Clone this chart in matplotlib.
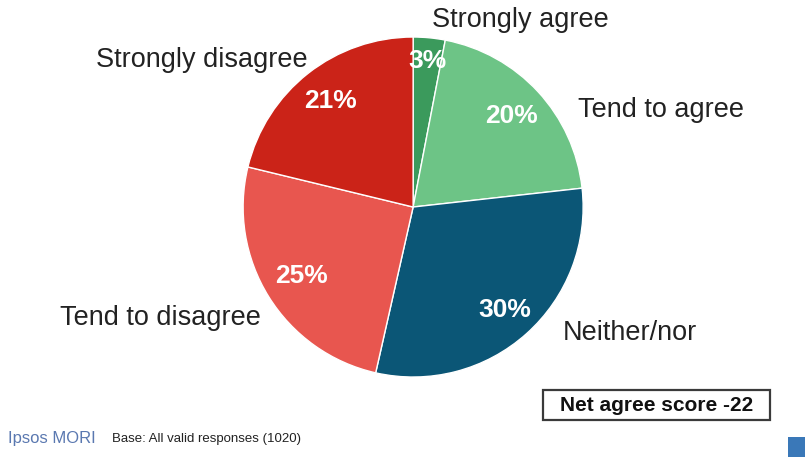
import matplotlib
matplotlib.use("Agg")
import matplotlib.pyplot as plt
import numpy as np
from matplotlib.patches import Rectangle

categories = ["Strongly agree", "Tend to agree", "Neither/nor", "Tend to disagree", "Strongly disagree"]
values = [3, 20, 30, 25, 21]
pct_labels = ["3%", "20%", "30%", "25%", "21%"]
colors = ["#3b9a5c", "#6dc486", "#0b5676", "#e8564f", "#cb2318"]

plt.rcParams['font.family'] = ['Liberation Sans', 'DejaVu Sans']

fig = plt.figure(figsize=(8.05, 4.57), dpi=100)
ax = fig.add_axes([0.302, 0.175, 0.4224, 0.744])
wedges, _ = ax.pie(values, colors=colors, startangle=90, counterclock=False,
                   radius=1.0, wedgeprops=dict(edgecolor="white", linewidth=1.0))
ax.set_xlim(-1, 1)
ax.set_ylim(-1, 1)
ax.set_aspect("equal")
ax.axis("off")

dists = [0.86, 0.79, 0.81, 0.77, 0.79]
for w, lab, d in zip(wedges, pct_labels, dists):
    ang = np.deg2rad((w.theta1 + w.theta2) / 2)
    ax.text(d * np.cos(ang), d * np.sin(ang), lab, color="white", fontsize=19,
            fontweight="bold", ha="center", va="center")

label_pos = [(0.647, 0.956), (0.821, 0.759), (0.783, 0.271), (0.199, 0.304), (0.251, 0.869)]
for cat, (x, y) in zip(categories, label_pos):
    fig.text(x, y, cat, fontsize=19.5, color="#222222", ha="center", va="center")

# Net agree box
fig.patches.append(Rectangle((543 / 805, 1 - 420 / 457), 227 / 805, 30 / 457,
                             transform=fig.transFigure, facecolor="white",
                             edgecolor="#3a3a3a", linewidth=1.6))
fig.text(656.5 / 805, 1 - 405.5 / 457, "Net agree score -22", fontsize=15, fontweight="bold",
         ha="center", va="center", color="#111111")

fig.text(0.010, 0.040, "Ipsos MORI", fontsize=12, color="#5a78b0", ha="left", va="center")
fig.text(0.139, 0.040, "Base: All valid responses (1020)", fontsize=9.5, color="#222222",
         ha="left", va="center")
fig.patches.append(Rectangle((0.979, 0.0), 0.021, 0.044, transform=fig.transFigure,
                             facecolor="#3a78b8", edgecolor="none"))

fig.savefig("out.png", dpi=100)
